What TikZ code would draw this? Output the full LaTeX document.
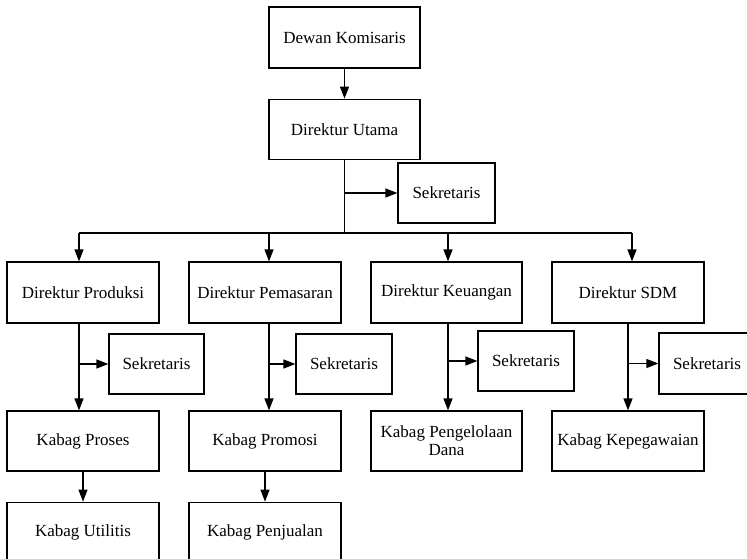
\documentclass[tikz,border=0pt]{standalone}
\usepackage{fontspec}
\setmainfont{Liberation Serif}
\usetikzlibrary{positioning,arrows.meta}

\begin{document}
\begin{tikzpicture}[x=1pt,y=-1pt,>={Triangle[length=12pt,width=9pt]},line width=1.2pt,
	box/.style={draw,minimum width=152pt,minimum height=61pt,inner sep=2pt,align=center,font=\fontsize{17}{18}\selectfont},
	sek/.style={box,minimum width=96pt,minimum height=60pt}]

\useasboundingbox (0,0) rectangle (747,559);
\clip (0,0) rectangle (747,559);

\node [box,minimum width=151pt] (dk) at (344.5,37.5) {Dewan Komisaris};
\node [box,minimum width=151pt,minimum height=60pt] (du) [below=30pt of dk] {Direktur Utama};
\node [sek,minimum width=97pt] (s0) at (446.5,193) {Sekretaris};

\node [box] (dprod) at (83,292.5) {Direktur Produksi};
\node [box] (dpem) at (265,292.5) {Direktur Pemasaran};
\node [box,minimum width=151pt] (dkeu) at (446.5,292.5) {Direktur Keuangan};
\node [box] (dsdm) at (628,292.5) {Direktur SDM};

\node [sek,minimum width=95pt] (s1) at (156.5,364) {Sekretaris};
\node [sek] (s2) at (344,364) {Sekretaris};
\node [sek] (s3) at (526,361) {Sekretaris};
\node [sek,minimum height=61pt] (s4) at (707,363.5) {Sekretaris};

\node [box,minimum height=60pt] (kpro) at (83,441) {Kabag Proses};
\node [box,minimum height=60pt] (kpromo) at (265,441) {Kabag Promosi};
\node [box,minimum width=151pt,minimum height=60pt] (kdana) at (446.5,441) {Kabag Pengelolaan\\Dana};
\node [box,minimum height=60pt] (kpeg) at (628,441) {Kabag Kepegawaian};

\node [box,minimum height=60pt] (kutil) [below=30pt of kpro] {Kabag Utilitis};
\node [box,minimum height=60pt] (kjual) [below=30pt of kpromo] {Kabag Penjualan};

\coordinate (b1) at (79,233);
\coordinate (b2) at (269,233);
\coordinate (b3) at (448,233);
\coordinate (b4) at (632,233);

\draw (du.south) -- (du.south |- b1);
\draw (b1) -- (b4);

\path [->]
	(dk)
		edge (du)
	(du.south |- s0)
		edge (s0)
	(b1)
		edge (b1 |- dprod.north)
	(b2)
		edge (b2 |- dpem.north)
	(b3)
		edge (b3 |- dkeu.north)
	(b4)
		edge (b4 |- dsdm.north)
	(b1 |- dprod.south)
		edge (b1 |- kpro.north)
	(b2 |- dpem.south)
		edge (b2 |- kpromo.north)
	(b3 |- dkeu.south)
		edge (b3 |- kdana.north)
	(dsdm.south)
		edge (kpeg.north)
	(b1 |- s1)
		edge (s1)
	(b2 |- s2)
		edge (s2)
	(b3 |- s3)
		edge (s3)
	(dsdm.south |- s4)
		edge (s4)
	(kpro)
		edge (kutil)
	(kpromo)
		edge (kjual)
;

\end{tikzpicture}
\end{document}
